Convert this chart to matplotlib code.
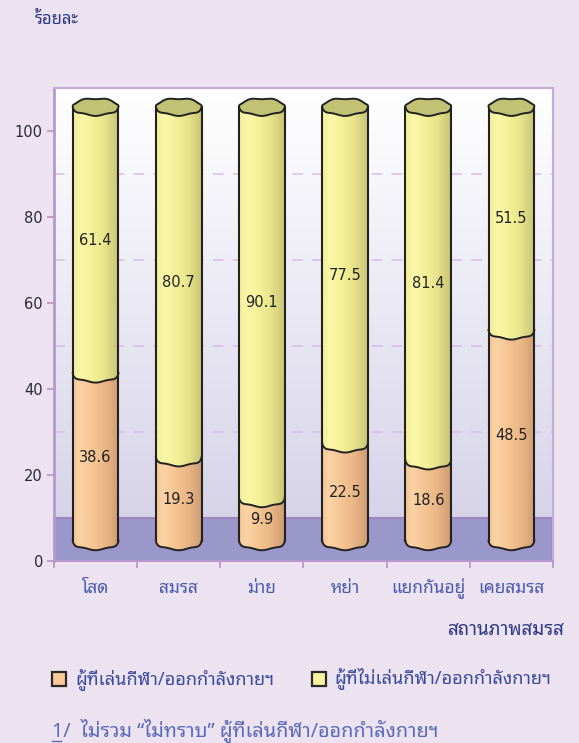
import numpy as np
import matplotlib
matplotlib.use("Agg")
import matplotlib.pyplot as plt
from matplotlib.patches import Polygon, Rectangle
from matplotlib.colors import LinearSegmentedColormap

plt.rcParams['font.family'] = ['Noto Sans Thai Looped', 'DejaVu Sans']

# data: percent by marital status
categories = ['โสด', 'สมรส', 'ม่าย', 'หย่า', 'แยกกันอยู่', 'เคยสมรส']
exercise = [38.6, 19.3, 9.9, 22.5, 18.6, 48.5]
no_exercise = [61.4, 80.7, 90.1, 77.5, 81.4, 51.5]
yticks = [0, 20, 40, 60, 80, 100]
series_names = ['ผู้ที่เล่นกีฬา/ออกกำลังกายฯ', 'ผู้ที่ไม่เล่นกีฬา/ออกกำลังกายฯ']

bg = '#EDE2F0'
navy = '#2E3A86'
axcol = '#B898CB'

# fake 3d settings
depth = 10      # floor / back wall offset
base = 4.6      # where the cylinders start
hw = 0.275      # cylinder half width (x units)
hh = 1.95       # ellipse half height (y units)

orange_cm = LinearSegmentedColormap.from_list('o', [
    (0, '#F4C493'), (0.15, '#FCD3A6'), (0.4, '#F6C694'), (0.7, '#EAB686'),
    (0.88, '#DAA77A'), (1, '#CC9C70')])
yellow_cm = LinearSegmentedColormap.from_list('y', [
    (0, '#F2EE98'), (0.18, '#FBF7A8'), (0.45, '#F4F097'), (0.7, '#E7E38C'),
    (0.88, '#D4D07C'), (1, '#C8C474')])


def arc(c, y, t, wob=0.0):
    # slightly hand-drawn ellipse edge
    return c + hw * np.cos(t), y + hh * np.sin(t) + wob * np.cos(6 * t)


fig = plt.figure(figsize=(5.79, 7.43), dpi=100, facecolor=bg)
ax = fig.add_axes([54 / 579, 1 - 561 / 743, 499 / 579, 473 / 743])
ax.set_xlim(-0.5, 5.5)
ax.set_ylim(0, 110)

# back wall gradient
wall = np.linspace(0, 1, 200).reshape(-1, 1)
wall_cm = LinearSegmentedColormap.from_list('w', ['#D3CFE7', '#FFFFFF'])
ax.imshow(wall, extent=[-0.5, 5.5, 0, 110], origin='lower', aspect='auto',
          cmap=wall_cm, zorder=0)

# floor
ax.axhspan(0, depth, color='#9A97CA', zorder=1, lw=0)
ax.axhline(depth, color='#9C88BF', lw=1.5, zorder=1.1)
ax.plot([5.5, 5.5], [0.4, depth], color='#222222', lw=2.2, zorder=1.2,
        solid_capstyle='butt')

# back wall gridlines (offset by depth)
for v in yticks[1:-1]:
    ax.axhline(v + depth, color='#D6BEE4', lw=1.1, dashes=(7, 6), zorder=1)

grad = np.linspace(0, 1, 256).reshape(1, -1)
t_low = np.linspace(np.pi, 2 * np.pi, 60)
for i, (a, b) in enumerate(zip(exercise, no_exercise)):
    c = i
    y0 = base
    y1 = base + a * 1.01
    y2 = base + (a + b) * 1.01
    for lo, hi, cm in [(y0, y1, orange_cm), (y1, y2, yellow_cm)]:
        xl, yl = arc(c, lo, t_low, 0.15)
        xu, yu = arc(c, hi, t_low[::-1], 0.15)
        pts = np.column_stack([np.r_[xl, xu], np.r_[yl, yu]])
        poly = Polygon(pts, closed=True, fc='none', ec='none')
        ax.add_patch(poly)
        im = ax.imshow(grad, extent=[c - hw, c + hw, lo - hh - 1, hi + 1],
                       aspect='auto', cmap=cm, zorder=3)
        im.set_clip_path(poly)
    # outlines
    xb, yb = arc(c, y0, t_low, 0.15)
    ax.plot(xb, yb, color='#222222', lw=1.4, zorder=4)
    xs, ys = arc(c, y1, t_low, 0.15)
    ax.plot(xs, ys, color='#222222', lw=1.4, zorder=4)
    ax.plot([c - hw, c - hw], [y0, y2], color='#222222', lw=1.5, zorder=4)
    ax.plot([c + hw, c + hw], [y0, y2], color='#222222', lw=1.5, zorder=4)
    # top cap
    tt = np.linspace(0, 2 * np.pi, 120)
    xt, yt = arc(c, y2, tt, 0.15)
    ax.fill(xt, yt, fc='#C2C274', ec='#222222', lw=1.4, zorder=5)
    # value labels
    ax.text(c, (y0 + y1) / 2, f'{a:.1f}', ha='center', va='center',
            fontsize=10.5, family='DejaVu Sans', color='#222222', zorder=6)
    ax.text(c, (y1 + y2) / 2, f'{b:.1f}', ha='center', va='center',
            fontsize=10.5, family='DejaVu Sans', color='#222222', zorder=6)

# axes styling
for s in ['top', 'right']:
    ax.spines[s].set_color('#C7AAD7')
    ax.spines[s].set_linewidth(1.5)
ax.spines['left'].set_color(axcol)
ax.spines['left'].set_linewidth(2)
ax.spines['bottom'].set_color(axcol)
ax.spines['bottom'].set_linewidth(1.5)
ax.set_yticks(yticks)
ax.set_yticklabels([str(v) for v in yticks], family='DejaVu Sans',
                   fontsize=10.5, color='#2A2A35')
ax.set_xticks(np.arange(-0.5, 6, 1))
ax.set_xticklabels([])
ax.tick_params(axis='both', color=axcol, length=5, width=1.3)
ax.tick_params(axis='y', pad=3)

for i, cat in enumerate(categories):
    ax.text(i, -0.057, cat, transform=ax.get_xaxis_transform(), ha='center',
            va='center', fontsize=12.5, color='#4A5CB0')

fig.text(35 / 579, 1 - 20 / 743, 'ร้อยละ', ha='left', va='center',
         fontsize=12, fontweight='bold', color=navy)
fig.text(565 / 579, 1 - 630 / 743, 'สถานภาพสมรส', ha='right', va='center',
         fontsize=13.5, fontweight='bold', color=navy)

# legend
for x0, tx, fc, name in [(52, 75, '#F9C996', series_names[0]),
                         (312, 334, '#F9F49E', series_names[1])]:
    fig.patches.append(Rectangle((x0 / 579, 1 - 686 / 743), 14 / 579, 14 / 743,
                                 transform=fig.transFigure, fc=fc,
                                 ec='#2A2A2A', lw=1.6))
    fig.text(tx / 579, 1 - 679 / 743, name, ha='left', va='center',
             fontsize=13, color='#3A4A9E')

# footnote
fig.text(52 / 579, 1 - 731 / 743, '1/  ไม่รวม “ไม่ทราบ” ผู้ที่เล่นกีฬา/ออกกำลังกายฯ',
         ha='left', va='center', fontsize=14.3, color='#5A6BB8')
fig.add_artist(plt.Line2D([52 / 579, 61 / 579], [1 - 741 / 743, 1 - 741 / 743],
                          color='#5A6BB8', lw=1))

fig.savefig('out.png', dpi=100, facecolor=bg)
